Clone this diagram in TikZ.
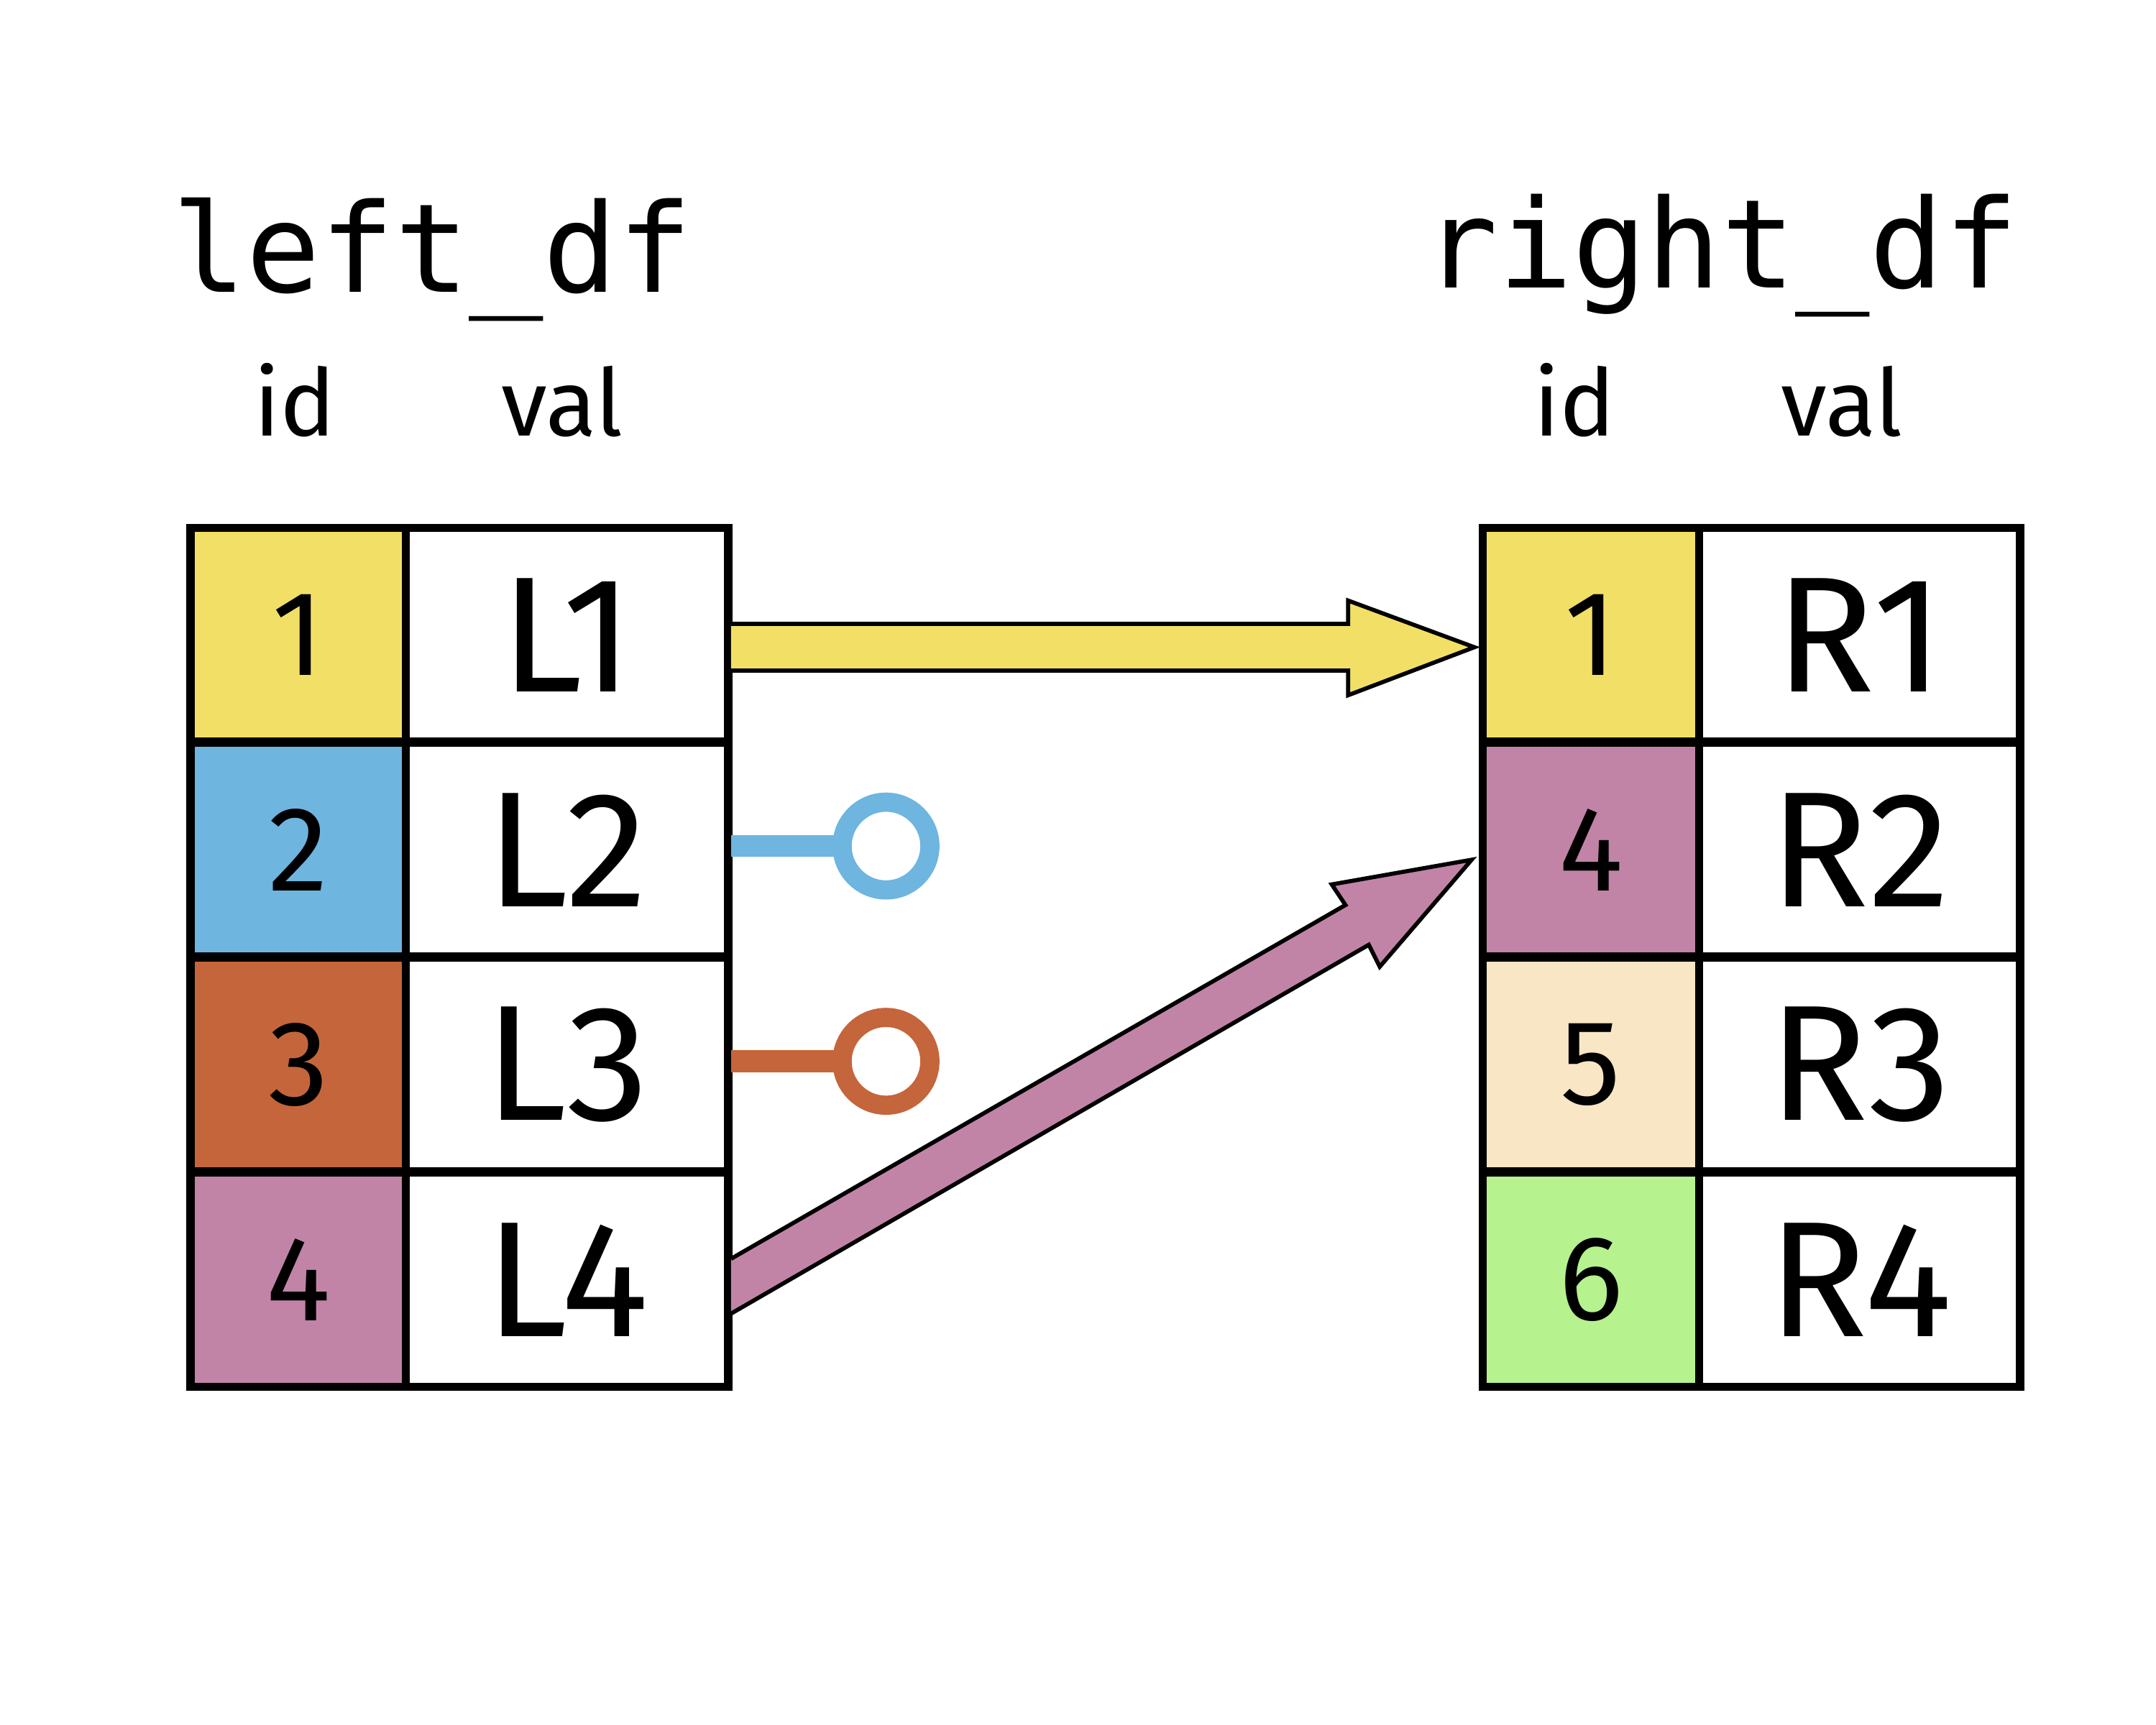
\documentclass[tikz,border=0pt]{standalone}
\usepackage{fontspec}
\setmainfont{Fira Sans}
\newfontfamily\monof{DejaVu Sans Mono}
\definecolor{cy}{HTML}{F2E066}
\definecolor{cb}{HTML}{6EB5DF}
\definecolor{co}{HTML}{C5653B}
\definecolor{cp}{HTML}{C184A7}
\definecolor{cbe}{HTML}{F8E6C4}
\definecolor{cg}{HTML}{B6F28E}
\begin{document}
\begin{tikzpicture}[x=0.5pt,y=-0.5pt,
  cell/.style={draw=black,line width=3pt,minimum width=#1*0.5pt,minimum height=156*0.5pt,inner sep=0pt,anchor=north west},
  idt/.style={font=\fontsize{44}{44}\selectfont},
  valt/.style={font=\fontsize{60}{60}\selectfont},
  hdr/.style={font=\fontsize{34}{34}\selectfont},
  ttl/.style={font=\monof\fontsize{45}{45}\selectfont},
  arr/.style={draw=black,line width=1.5pt,line join=miter}]
\useasboundingbox (0,0) rectangle (1572,1258);
% left table
\foreach \i/\c/\v [count=\k from 0] in {1/cy/L1,2/cb/L2,3/co/L3,4/cp/L4}{
  \node[cell=157,fill=\c,idt] (l\i) at (136,382+156.75*\k) {\i};
  \node[cell=235,fill=white,valt] (lv\i) at (293,382+156.75*\k) {\v};
}
% right table
\foreach \i/\c/\n/\v [count=\k from 0] in {1/cy/1/R1,2/cp/4/R2,3/cbe/5/R3,4/cg/6/R4}{
  \node[cell=158,fill=\c,idt] (r\i) at (1078,382+156.75*\k) {\n};
  \node[cell=234,fill=white,valt] (rv\i) at (1236,382+156.75*\k) {\v};
}
\node[ttl,anchor=base] (lt) at (315,213) {left\_df};
\node[ttl,anchor=base] (rt) at (1255,210) {right\_df};
\node[hdr,anchor=base] (lh1) at (215,318) {id};
\node[hdr,anchor=base] (lh2) at (410,318) {val};
\node[hdr,anchor=base] (rh1) at (1148,318) {id};
\node[hdr,anchor=base] (rh2) at (1343,318) {val};
% yellow arrow
\draw[arr,fill=cy] (533,455) -- (983,455) -- (983,438) -- (1075,472) -- (983,507) -- (983,489) -- (533,489);
% pink arrow
\draw[arr,fill=cp] (533,918) -- (981,660) -- (971,645) -- (1073,627) -- (1006,705) -- (998,689) -- (533,958);
% blue / orange stubs
\coordinate (b0) at (533,617);
\coordinate (bc) at (646,617);
\draw[cb,line width=8pt] (b0) -- (614,617);
\draw[cb,line width=7pt] (bc) circle (32);
\coordinate (o0) at (533,774);
\coordinate (oc) at (646,774);
\draw[co,line width=8pt] (o0) -- (614,774);
\draw[co,line width=7pt] (oc) circle (32);
\end{tikzpicture}
\end{document}
